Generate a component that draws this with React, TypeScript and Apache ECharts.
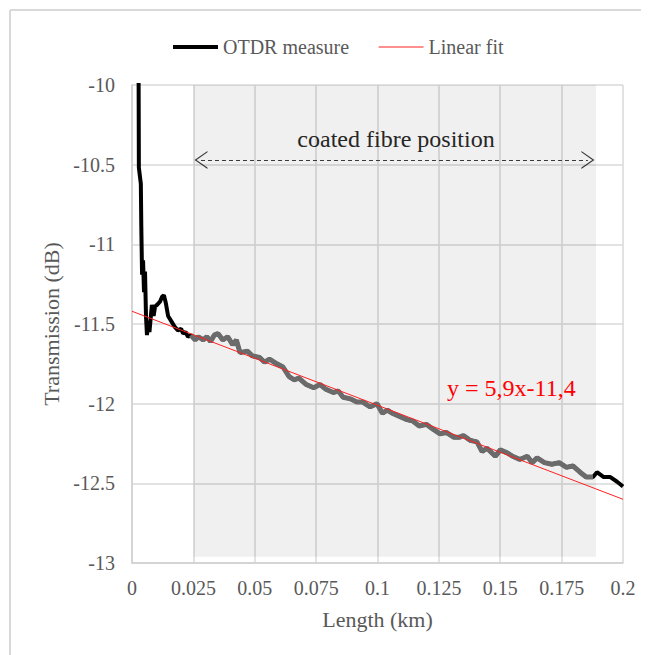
import React, { useEffect, useRef } from "react";
import * as echarts from "echarts";

// OTDR trace: length (km) and transmission (dB)
const lengthKm = [
  0.0026, 0.0028, 0.0036, 0.0038, 0.0041, 0.0045, 0.0049, 0.0053, 0.0057, 0.0061,
  0.0066, 0.0071, 0.0081, 0.0088, 0.0094, 0.0102, 0.0114, 0.0122, 0.013, 0.0138,
  0.0147, 0.0163, 0.0175, 0.0187, 0.02, 0.0208, 0.0218, 0.0228, 0.024, 0.0257,
  0.027, 0.029, 0.0305, 0.032, 0.0335, 0.035, 0.037, 0.039, 0.041, 0.0425,
  0.044, 0.047, 0.049, 0.052, 0.054, 0.056, 0.059, 0.0615, 0.064, 0.066,
  0.068, 0.071, 0.074, 0.0766, 0.079, 0.082, 0.084, 0.086, 0.089, 0.0916,
  0.094, 0.097, 0.0998, 0.102, 0.104, 0.106, 0.109, 0.112, 0.1145, 0.117,
  0.12, 0.1226, 0.1255, 0.128, 0.131, 0.1335, 0.135, 0.1377, 0.1405, 0.1426,
  0.1446, 0.148, 0.15, 0.153, 0.155, 0.158, 0.161, 0.163, 0.165, 0.168,
  0.171, 0.174, 0.177, 0.1796, 0.1825, 0.185, 0.1878, 0.1894, 0.192, 0.1947,
  0.1976, 0.2,
];
const transmissionDb = [
  -9.5, -10.52, -10.62, -10.9, -11.19, -11.1, -11.3, -11.17, -11.45, -11.57,
  -11.48, -11.55, -11.38, -11.45, -11.39, -11.38, -11.36, -11.33, -11.32, -11.37,
  -11.45, -11.49, -11.52, -11.54, -11.53, -11.56, -11.55, -11.58, -11.57, -11.6,
  -11.58, -11.6, -11.58, -11.61, -11.57, -11.56, -11.6, -11.58, -11.63, -11.6,
  -11.68, -11.67, -11.7, -11.71, -11.74, -11.72, -11.75, -11.77, -11.83, -11.85,
  -11.84, -11.88, -11.9, -11.88, -11.91, -11.93, -11.92, -11.96, -11.97, -11.99,
  -11.99, -12.02, -12.0, -12.06, -12.04, -12.06, -12.08, -12.1, -12.11, -12.14,
  -12.13, -12.16, -12.19, -12.18, -12.21, -12.21, -12.2, -12.23, -12.24, -12.3,
  -12.28, -12.33, -12.29, -12.31, -12.33, -12.35, -12.33, -12.37, -12.34, -12.37,
  -12.38, -12.37, -12.4, -12.39, -12.43, -12.46, -12.46, -12.43, -12.46, -12.46,
  -12.49, -12.52,
];

// Linear fit line
const fitLengthKm = [0, 0.2];
const fitDb = [-11.42, -12.6];

// Coated fibre section
const coatedStartKm = 0.025;
const coatedEndKm = 0.189;
const coatedBandDb = [-10, -12.96];
const arrowDb = -10.47;

const seriesNames = ["OTDR measure", "Linear fit"];
const annotationText = "coated fibre position";
const equationText = "y = 5,9x-11,4";

const FONT = "'Liberation Serif', 'Times New Roman', serif";
const chevron = "path://M5,0 L10,10 L9.2,10 L5,1.6 L0.8,10 L0,10 Z";

export default function App() {
  const ref = useRef<HTMLDivElement>(null);
  useEffect(() => {
    if (!ref.current) return;
    const chart = echarts.init(ref.current, undefined, { renderer: "svg" });
    const measure = lengthKm.map((x, i) => [x, transmissionDb[i]]);
    const coated = measure.filter((p) => p[0] >= 0.024 && p[0] <= 0.1878);
    const fit = fitLengthKm.map((x, i) => [x, fitDb[i]]);
    chart.setOption({
      animation: false,
      textStyle: { fontFamily: FONT },
      grid: { left: 132, right: 25, top: 85, bottom: 92, containLabel: false },
      legend: {
        data: seriesNames,
        left: 166,
        top: 32,
        itemWidth: 45,
        itemHeight: 14,
        itemGap: 29,
        itemStyle: { opacity: 0 },
        lineStyle: { width: "inherit" },
        textStyle: { fontFamily: FONT, fontSize: 20, color: "#595959" },
      },
      xAxis: {
        type: "value",
        min: 0,
        max: 0.2,
        interval: 0.025,
        name: "Length (km)",
        nameLocation: "middle",
        nameGap: 45,
        nameTextStyle: { fontFamily: FONT, fontSize: 22, color: "#595959" },
        axisLine: { show: true, lineStyle: { color: "#d0d0d0", width: 1.5 } },
        axisTick: { show: false },
        axisLabel: {
          margin: 15,
          fontFamily: FONT,
          fontSize: 20,
          color: "#595959",
          formatter: (v: number) => String(+v.toFixed(3)),
        },
        splitLine: { show: true, lineStyle: { color: "#d9d9d9", width: 1.5 } },
      },
      yAxis: {
        type: "value",
        min: -13,
        max: -10,
        interval: 0.5,
        name: "Transmission (dB)",
        nameLocation: "middle",
        nameGap: 70,
        nameTextStyle: { fontFamily: FONT, fontSize: 22, color: "#595959" },
        axisLine: { show: true, lineStyle: { color: "#d0d0d0", width: 1.5 } },
        axisTick: { show: false },
        axisLabel: {
          margin: 17,
          fontFamily: FONT,
          fontSize: 20,
          color: "#595959",
          formatter: (v: number) => String(+v.toFixed(2)),
        },
        splitLine: { show: true, lineStyle: { color: "#d9d9d9", width: 1.5 } },
      },
      series: [
        {
          name: "band",
          type: "line",
          data: [],
          z: 1,
          silent: true,
          markArea: {
            silent: true,
            itemStyle: { color: "rgba(0,0,0,0.06)" },
            data: [
              [
                { xAxis: coatedStartKm, yAxis: coatedBandDb[0] },
                { xAxis: coatedEndKm, yAxis: coatedBandDb[1] },
              ],
            ],
          },
        },
        {
          name: seriesNames[0],
          type: "line",
          data: measure,
          symbol: "none",
          z: 3,
          lineStyle: { color: "#000000", width: 4 },
          itemStyle: { color: "#000000" },
        },
        {
          name: "coated",
          type: "line",
          data: coated,
          symbol: "none",
          z: 4,
          lineStyle: { color: "#6b6b6b", width: 5 },
          markLine: {
            silent: true,
            symbol: [chevron, chevron],
            symbolSize: [18, 13],
            label: { show: false },
            lineStyle: { color: "#3a3a3a", width: 1, type: [4, 3] },
            itemStyle: { color: "#3a3a3a" },
            data: [
              [
                { coord: [0.0281, arrowDb] },
                { coord: [0.1857, arrowDb] },
              ],
            ],
          },
        },
        {
          name: seriesNames[1],
          type: "line",
          data: fit,
          symbol: "none",
          z: 5,
          lineStyle: { color: "#ff2020", width: 1 },
          itemStyle: { color: "#ff2020" },
        },
      ],
      graphic: [
        {
          type: "line",
          shape: { x1: 10, y1: 10, x2: 10, y2: 655 },
          style: { stroke: "#d9d9d9", lineWidth: 2 },
          silent: true,
        },
        {
          type: "line",
          shape: { x1: 10, y1: 10, x2: 641, y2: 10 },
          style: { stroke: "#d9d9d9", lineWidth: 2 },
          silent: true,
        },
        {
          type: "text",
          x: 396,
          y: 139,
          style: {
            text: annotationText,
            fontFamily: FONT,
            fontSize: 24,
            fill: "#262626",
            align: "center",
            verticalAlign: "middle",
          },
          z: 10,
        },
        {
          type: "text",
          x: 447,
          y: 388,
          style: {
            text: equationText,
            fontFamily: FONT,
            fontSize: 24,
            fill: "#ff0000",
            align: "left",
            verticalAlign: "middle",
          },
          z: 10,
        },
      ],
    });
    return () => chart.dispose();
  }, []);
  return (
    <div
      ref={ref}
      style={{ position: "fixed", left: 0, top: 0, width: 648, height: 655, background: "#fff" }}
    />
  );
}
